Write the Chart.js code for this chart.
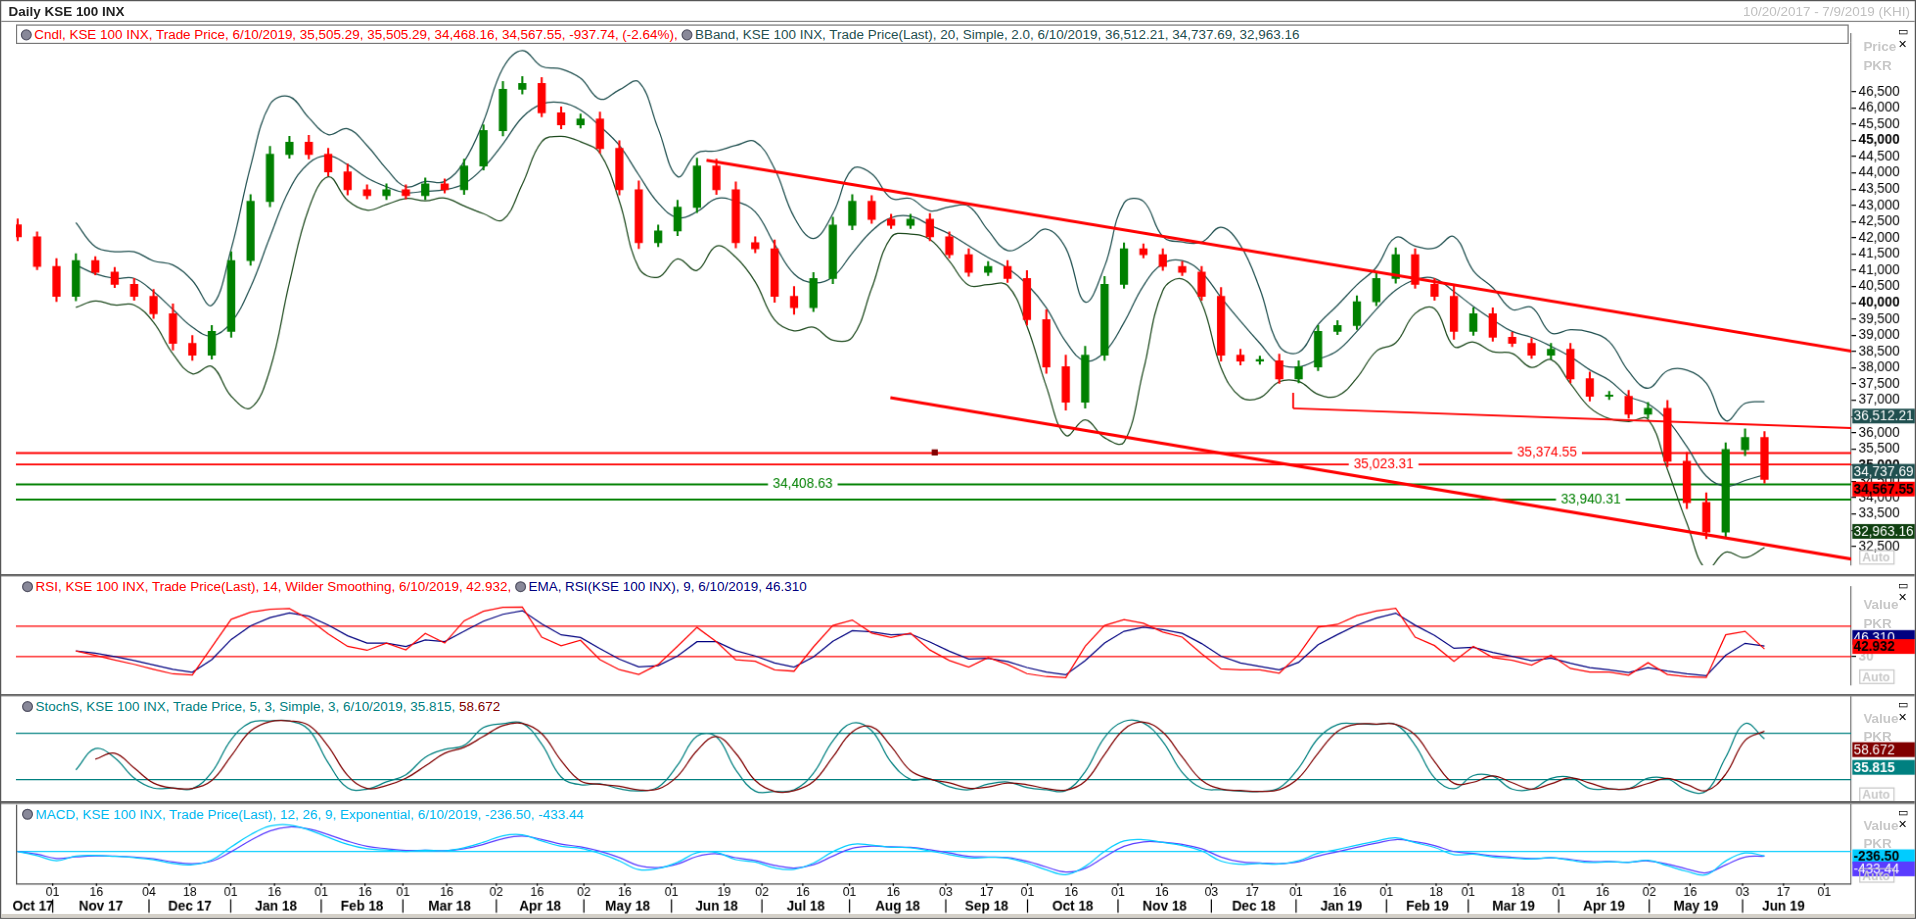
<!DOCTYPE html>
<html><head><meta charset="utf-8">
<script src="https://cdn.jsdelivr.net/npm/chart.js@4"></script>
<style>
body{margin:0;background:#fff;font-family:"Liberation Sans",Arial,sans-serif;overflow:hidden;}
#wrap{position:absolute;left:0;top:0;width:1566px;height:751px;border:1px solid #555;box-sizing:border-box;transform:scale(1.2235);transform-origin:0 0;}
.pan{position:absolute;left:0;width:1564px;}
.sep{position:absolute;left:0;width:1564px;height:0;border-top:2px solid #666;}
.leg{position:absolute;left:14px;font-size:11px;white-space:nowrap;background:#fff;padding:0 3px;height:14px;line-height:14px;z-index:5;}
.clk{display:inline-block;width:9px;height:9px;border-radius:50%;background:#889;border:1px solid #556;box-sizing:border-box;margin-right:2px;vertical-align:-1px;}
.rt{position:absolute;left:1522px;font-size:11px;font-weight:bold;color:#c8c8c8;z-index:5;line-height:15px;}
.ic{position:absolute;left:1550px;font-size:9px;color:#000;z-index:5;}
</style></head><body>
<div id="wrap">
<div style="position:absolute;left:6px;top:2px;font-size:11px;font-weight:bold;color:#222">Daily KSE 100 INX</div>
<div style="position:absolute;right:4px;top:2px;font-size:11px;color:#c0c0c0">10/20/2017 - 7/9/2019 (KHI)</div>
<div class="sep" style="top:16px;border-top:1px solid #888"></div>
<div class="leg" style="top:19px;left:12px;border:1px solid #777;width:1490px"><span class="clk"></span><span style="color:#f00">Cndl, KSE 100 INX, Trade Price, 6/10/2019, 35,505.29, 35,505.29, 34,468.16, 34,567.55, -937.74, (-2.64%),</span> <span class="clk"></span><span style="color:#1f4f4f">BBand, KSE 100 INX, Trade Price(Last), 20, Simple, 2.0, 6/10/2019, 36,512.21, 34,737.69, 32,963.16</span></div>
<div class="ic" style="top:20px">▭ ✕</div>
<div class="rt" style="top:30px">Price<br>PKR</div>
<div class="pan" style="top:18px;height:451px"><canvas id="c1"></canvas></div>
<div class="sep" style="top:468px"></div>
<div class="leg" style="top:471px"><span class="clk"></span><span style="color:#f00">RSI, KSE 100 INX, Trade Price(Last),  14, Wilder Smoothing, 6/10/2019, 42.932,</span> <span class="clk"></span><span style="color:#000080">EMA, RSI(KSE 100 INX), 9, 6/10/2019, 46.310</span></div>
<div class="ic" style="top:472px">▭ ✕</div>
<div class="rt" style="top:486px">Value<br>PKR</div>
<div class="pan" style="top:470px;height:97px"><canvas id="c2"></canvas></div>
<div class="sep" style="top:566px"></div>
<div class="leg" style="top:569px"><span class="clk"></span><span style="color:#008080">StochS, KSE 100 INX, Trade Price,  5, 3, Simple, 3, 6/10/2019, 35.815,</span> <span style="color:#800000">58.672</span></div>
<div class="ic" style="top:570px">▭ ✕</div>
<div class="rt" style="top:579px">Value<br>PKR</div>
<div class="pan" style="top:568px;height:87px"><canvas id="c3"></canvas></div>
<div class="sep" style="top:654px"></div>
<div class="leg" style="top:657px"><span class="clk"></span><span style="color:#00b8f0">MACD, KSE 100 INX, Trade Price(Last),  12, 26, 9, Exponential, 6/10/2019, -236.50, -433.44</span></div>
<div class="ic" style="top:658px">▭ ✕</div>
<div class="rt" style="top:666px">Value<br>PKR</div>
<div class="pan" style="top:656px;height:92px"><canvas id="c4"></canvas></div>
<div style="position:absolute;left:0;top:746px;width:1564px;height:3px;background:#d4d0c8"></div>
</div>
<script>
// closes sampled about every 4.7 sessions (6.65 calendar days), from 20 Oct 2017 to 10 Jun 2019
const closes=[42030,41120,40200,41300,40940,40570,40200,39660,38750,38390,39120,41300,43120,44570,44940,44570,44030,43480,43300,43480,43300,43660,43480,44210,45300,46570,46750,45850,45480,45660,44750,43480,41850,42210,42940,44210,43480,41850,41660,40200,39850,40750,42390,43120,42570,42390,42570,42030,41480,40940,41120,40750,39480,38030,36940,38390,40570,41660,41480,41120,40940,40200,38390,38210,38210,37660,38030,39120,39300,40030,40750,41480,40570,40200,39120,39660,38940,38750,38390,38570,37660,37120,37120,36570,36750,35120,33850,32940,35480,35850,34568];
const firstOpen=42400;
const wick=[300,250,400,350,200,250,300,350,500,400,300,450,350,400,300,350,300,400,250,300,250,300,250,350,300,400,350,300,300,250,350,400,450,300,350,400,350,400,300,450,500,300,400,350,300,250,250,300,250,300,250,300,400,500,600,450,400,300,250,300,250,300,450,300,250,350,300,300,250,300,300,350,300,300,600,300,300,250,250,300,300,350,250,300,300,400,450,500,350,450,300];
const levels=[35374.55,35023.31,34408.63,33940.31];
const levelColors=['#ff0000','#ff0000','#008000','#008000'];
const levelLabelDays=[512,456,257,527];
const trendUpper=[[224,44390],[617,38500]];
const trendLower=[[287,37080],[617,32100]];
const trendMid=[[425,36750],[617,36140]];
const tickDates=['2017-11-01','2017-11-16','2017-12-04','2017-12-18','2018-01-01','2018-01-16','2018-02-01','2018-02-16','2018-03-01','2018-03-16','2018-04-02','2018-04-16','2018-05-02','2018-05-16','2018-06-01','2018-06-19','2018-07-02','2018-07-16','2018-08-01','2018-08-16','2018-09-03','2018-09-17','2018-10-01','2018-10-16','2018-11-01','2018-11-16','2018-12-03','2018-12-17','2019-01-01','2019-01-16','2019-02-01','2019-02-18','2019-03-01','2019-03-18','2019-04-01','2019-04-16','2019-05-02','2019-05-16','2019-06-03','2019-06-17','2019-07-01'];
const monthLabels=['Oct 17','Nov 17','Dec 17','Jan 18','Feb 18','Mar 18','Apr 18','May 18','Jun 18','Jul 18','Aug 18','Sep 18','Oct 18','Nov 18','Dec 18','Jan 19','Feb 19','Mar 19','Apr 19','May 19','Jun 19'];
const priceTicks=[32500,33000,33500,34000,34500,35000,35500,36000,36500,37000,37500,38000,38500,39000,39500,40000,40500,41000,41500,42000,42500,43000,43500,44000,44500,45000,45500,46000,46500];

const base=Date.UTC(2017,10,1);
const dayOf=s=>{const [y,m,d]=s.split('-').map(Number);return (Date.UTC(y,m-1,d)-base)/864e5;};
const X=closes.map((c,i)=>dayOf('2017-10-20')+i*6.65);
const opens=closes.map((c,i)=>i?closes[i-1]:firstOpen);
const highs=closes.map((c,i)=>Math.max(c,opens[i])+wick[i]*0.6);
const lows=closes.map((c,i)=>Math.min(c,opens[i])-wick[i]*0.4);
const XMIN=-12.6,XMAX=616.2;

function sma(a,n){return a.map((v,i)=>i<n-1?null:a.slice(i-n+1,i+1).reduce((s,x)=>s+x,0)/n);}
function ema(a,n){const k=2/(n+1);let e=null;return a.map(v=>{if(v==null)return null;e=e==null?v:v*k+e*(1-k);return e;});}
const BBN=4;
const mid=sma(closes,BBN);
const sd=closes.map((v,i)=>{if(i<BBN-1)return null;const s=closes.slice(i-BBN+1,i+1);const m=mid[i];return Math.sqrt(s.reduce((t,x)=>t+(x-m)**2,0)/BBN);});
const bbU=mid.map((m,i)=>m==null?null:m+2*sd[i]);
const bbL=mid.map((m,i)=>m==null?null:m-2*sd[i]);
const rsi=[];{let ag=0,al=0;const n=3;closes.forEach((c,i)=>{if(i==0){rsi.push(null);return;}const d=c-closes[i-1];const g=Math.max(d,0),l=Math.max(-d,0);if(i<=n){ag+=g/n;al+=l/n;}else{ag=(ag*(n-1)+g)/n;al=(al*(n-1)+l)/n;}rsi.push(i<n?null:100-100/(1+ag/(al||1e-9)));});}
const rsiE=ema(rsi,3);
const kraw=closes.map((c,i)=>{if(i<2)return null;const h=Math.max(...highs.slice(i-2,i+1)),l=Math.min(...lows.slice(i-2,i+1));return (c-l)/(h-l)*100;});
const kS=kraw.map((v,i)=>i<3?null:(kraw[i]+kraw[i-1])/2);
const dS=kS.map((v,i)=>i<4?null:(kS[i]+kS[i-1])/2);
const e1=ema(closes,3),e2=ema(closes,6);
const macd=e1.map((v,i)=>v-e2[i]);
const sig=ema(macd,2);

const pts=a=>a.map((v,i)=>({x:X[i],y:v}));
const rightAxis=(o)=>Object.assign({position:'right',grid:{drawOnChartArea:false,drawTicks:true,tickLength:4,color:'#000'},border:{display:true,color:'#777'},afterFit:s=>{s.width=52;}},o);
const xAxis={type:'linear',min:XMIN,max:XMAX,display:false,offset:false};
const common={responsive:true,maintainAspectRatio:false,animation:false,devicePixelRatio:1.25,events:[],plugins:{legend:{display:false},tooltip:{enabled:false}}};
const fmt=v=>v.toLocaleString('en-US',{minimumFractionDigits:2,maximumFractionDigits:2});

function hline(ctx,ca,y,color,w){ctx.save();ctx.strokeStyle=color;ctx.lineWidth=w;ctx.beginPath();ctx.moveTo(ca.left,y);ctx.lineTo(ca.right,y);ctx.stroke();ctx.restore();}
function box(ctx,ca,y,txt,bg,fg,bold){ctx.save();ctx.font=(bold?'bold ':'')+'11px "Liberation Sans"';ctx.fillStyle=bg;ctx.fillRect(ca.right+1,y-6,51,12);ctx.fillStyle=fg;ctx.textBaseline='middle';ctx.fillText(txt,ca.right+2,y+0.5);ctx.restore();}
function auto(ctx,ca){ctx.save();ctx.strokeStyle='#c8c8c8';ctx.strokeRect(ca.right+7,ca.bottom-12,28,11);ctx.fillStyle='#c8c8c8';ctx.font='bold 10px "Liberation Sans"';ctx.fillText('Auto',ca.right+9,ca.bottom-3);ctx.restore();}

const pricePlugin={id:'pp',
 beforeDatasetsDraw(c){const {ctx,chartArea:ca,scales:{x,y}}=c;
  levels.forEach((v,i)=>{const py=y.getPixelForValue(v);hline(ctx,ca,py,levelColors[i],1.5);
   const t=fmt(v);ctx.save();ctx.font='11px "Liberation Sans"';const w=ctx.measureText(t).width;const px=x.getPixelForValue(levelLabelDays[i]);ctx.fillStyle='#fff';ctx.fillRect(px-w/2-4,py-6,w+8,12);ctx.fillStyle=levelColors[i];ctx.textAlign='center';ctx.textBaseline='middle';ctx.fillText(t,px,py);ctx.restore();});
 },
 afterDatasetsDraw(c){const {ctx,chartArea:ca,scales:{x,y}}=c;
  ctx.save();ctx.fillStyle='#800000';ctx.fillRect(x.getPixelForValue(302)-2,y.getPixelForValue(35374.55)-3,5,5);
  ctx.strokeStyle='#ff0000';ctx.lineWidth=1.5;ctx.beginPath();ctx.moveTo(x.getPixelForValue(425),y.getPixelForValue(37230));ctx.lineTo(x.getPixelForValue(425),y.getPixelForValue(36750));ctx.stroke();ctx.restore();
  box(ctx,ca,y.getPixelForValue(36512.21),'36,512.21','#1f4f4f','#fff');
  box(ctx,ca,y.getPixelForValue(34737.69)-2,'34,737.69','#1f4f4f','#fff');
  box(ctx,ca,y.getPixelForValue(34567.55)+8,'34,567.55','#ff0000','#000',true);
  box(ctx,ca,y.getPixelForValue(32963.16),'32,963.16','#0f4010','#fff');
  auto(ctx,ca);
 }};

const candleColors=closes.map((c,i)=>c>=opens[i]?'#008000':'#ff0000');
new Chart(document.getElementById('c1'),{type:'bar',
 data:{datasets:[
  {type:'line',data:pts(bbU),borderColor:'#1f4f4f',borderWidth:1,pointRadius:0,tension:0.4,order:3},
  {type:'line',data:pts(mid),borderColor:'#1f4f4f',borderWidth:1,pointRadius:0,tension:0.4,order:3},
  {type:'line',data:pts(bbL),borderColor:'#1e4a1e',borderWidth:1,pointRadius:0,tension:0.4,order:3},
  {data:closes.map((c,i)=>({x:X[i],y:[lows[i],highs[i]]})),backgroundColor:candleColors,barThickness:1,order:2,grouped:false},
  {data:closes.map((c,i)=>({x:X[i],y:[opens[i],c]})),backgroundColor:candleColors,barThickness:6,minBarLength:1,order:1,grouped:false},
  {type:'line',data:trendUpper.map(p=>({x:p[0],y:p[1]})),borderColor:'#ff0000',borderWidth:2.5,pointRadius:0,order:0},
  {type:'line',data:trendLower.map(p=>({x:p[0],y:p[1]})),borderColor:'#ff0000',borderWidth:2.5,pointRadius:0,order:0},
  {type:'line',data:trendMid.map(p=>({x:p[0],y:p[1]})),borderColor:'#ff0000',borderWidth:1.5,pointRadius:0,order:0}
 ]},
 options:Object.assign({},common,{layout:{padding:{left:12}},scales:{x:xAxis,
  y:rightAxis({min:31920,max:48280,afterBuildTicks:s=>{s.ticks=priceTicks.map(v=>({value:v}));},
   ticks:{autoSkip:false,color:'#000',padding:2,font:ctx=>({size:11,family:'Liberation Sans',weight:(ctx.tick&&ctx.tick.value%5000===0)?'bold':'normal'}),callback:v=>v.toLocaleString('en-US')}})}}),
 plugins:[pricePlugin]});

function lowerChart(id,ds,ymin,ymax,lines,boxes,extra){
 new Chart(document.getElementById(id),{type:'line',data:{datasets:ds},
  options:Object.assign({},common,{layout:{padding:{left:12,bottom:extra?27:0}},scales:{x:xAxis,y:rightAxis({min:ymin,max:ymax,afterBuildTicks:s=>{s.ticks=id==='c2'?[{value:30}]:[];},ticks:{color:'#c8c8c8',font:{size:11,weight:'bold'},padding:2}})}}),
  plugins:[{id:'l'+id,beforeDatasetsDraw(c){lines.forEach(l=>hline(c.ctx,c.chartArea,c.scales.y.getPixelForValue(l[0]),l[1],1));},
   afterDatasetsDraw(c){const {ctx,chartArea:ca,scales:{x,y}}=c;boxes.forEach(b=>box(ctx,ca,y.getPixelForValue(b[0]),b[1],b[2],b[3],b[4]));
    auto(ctx,ca);
    if(extra){ctx.save();ctx.strokeStyle='#555';ctx.lineWidth=1;
     ctx.beginPath();ctx.moveTo(ca.left,ca.bottom+0.5);ctx.lineTo(ca.right,ca.bottom+0.5);ctx.moveTo(ca.left+0.5,ca.top);ctx.lineTo(ca.left+0.5,ca.bottom);ctx.stroke();
     ctx.font='10px "Liberation Sans"';ctx.fillStyle='#000';ctx.textAlign='center';ctx.strokeStyle='#000';
     tickDates.forEach(t=>{const px=x.getPixelForValue(dayOf(t));ctx.beginPath();ctx.moveTo(px,ca.bottom);ctx.lineTo(px,ca.bottom+2);ctx.stroke();ctx.fillText(t.slice(8),px,ca.bottom+10);});
     const seps=[x.getPixelForValue(XMIN)];const seen={};
     tickDates.forEach(t=>{const k=t.slice(0,7);if(!seen[k]){seen[k]=1;seps.push(x.getPixelForValue(dayOf(t)));}});
     ctx.font='bold 11px "Liberation Sans"';
     monthLabels.forEach((m,i)=>{const a=seps[i],b=seps[i+1];ctx.fillText(m,i===0?a+14:(a+b)/2,ca.bottom+22);
      if(i>0){ctx.beginPath();ctx.moveTo(a,ca.bottom+13);ctx.lineTo(a,ca.bottom+24);ctx.stroke();}});
     ctx.restore();}
   }}]});
}
lowerChart('c2',[
 {data:pts(rsi),borderColor:'#ff0000',borderWidth:1,pointRadius:0},
 {data:pts(rsiE),borderColor:'#000080',borderWidth:1,pointRadius:0}],
 -7,122,[[70,'#ff0000'],[30,'#ff0000']],[[55.3,'46.310','#000080','#fff'],[43.3,'42.932','#ff0000','#000',true]]);
lowerChart('c3',[
 {data:pts(dS),borderColor:'#800000',borderWidth:1,pointRadius:0,tension:0.4},
 {data:pts(kS),borderColor:'#008080',borderWidth:1,pointRadius:0,tension:0.4}],
 -10,127,[[80,'#008080'],[20,'#008080']],[[58.672,'58.672','#800000','#fff'],[35.815,'35.815','#008080','#fff',true]]);
lowerChart('c4',[
 {data:pts(macd),borderColor:'#00ccff',borderWidth:1,pointRadius:0,tension:0.4},
 {data:pts(sig),borderColor:'#5a3cff',borderWidth:1,pointRadius:0,tension:0.4}],
 -1500,2200,[[0,'#00ccff']],[[-250,'-236.50','#00ccff','#000',true],[-820,'-433.44','#5a3cff','#fff']],true);
</script></body></html>
